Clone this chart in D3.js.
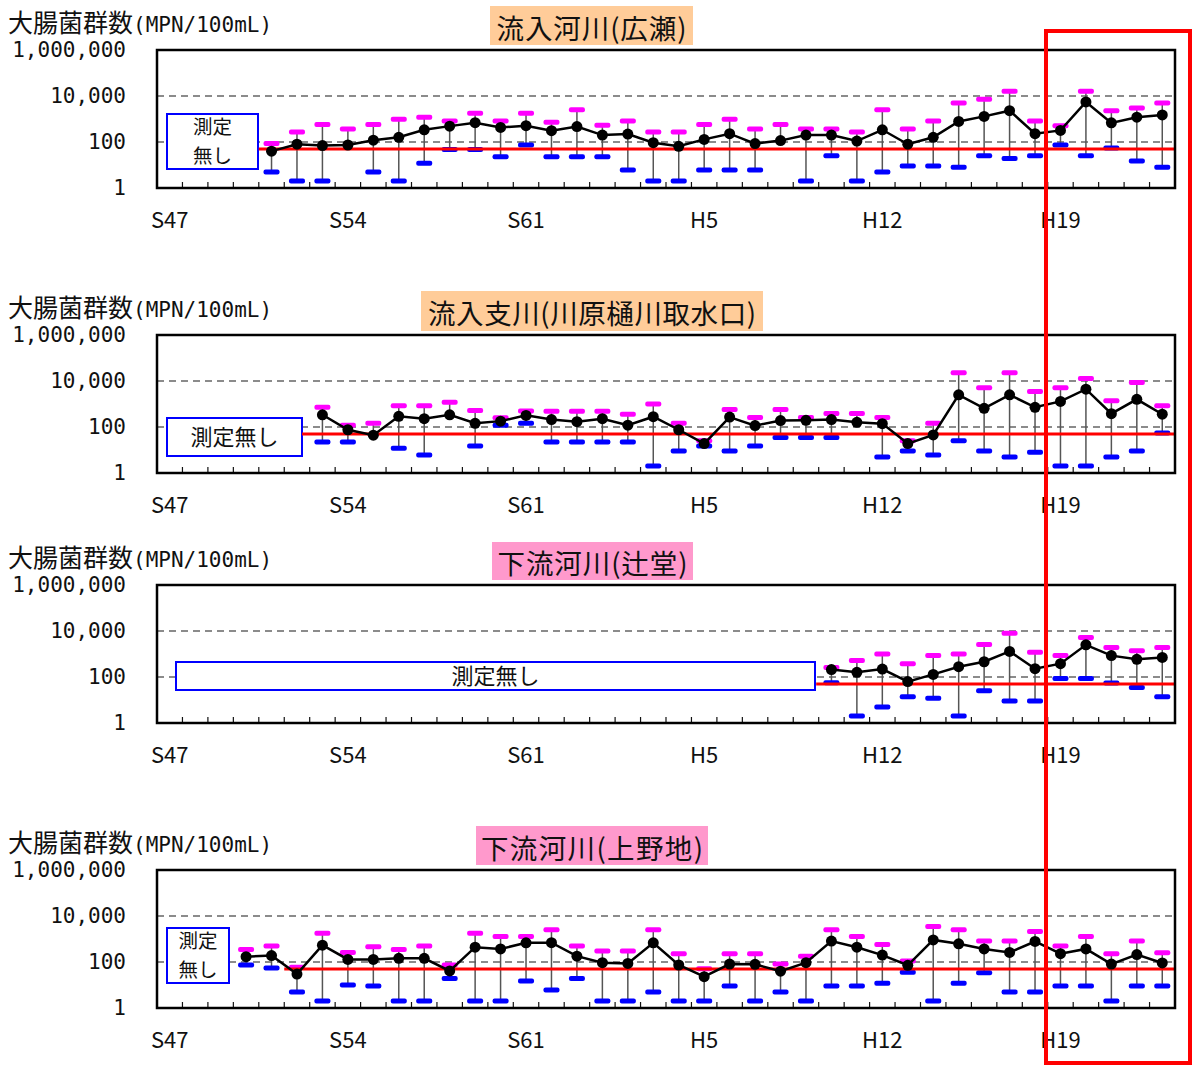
<!DOCTYPE html>
<html><head><meta charset="utf-8">
<script src="https://cdn.jsdelivr.net/npm/d3@7"></script>
<style>body{margin:0;background:#fff}</style>
</head><body>
<svg id="chart" width="1192" height="1066"></svg>
<script>
// ---- Data ----
const years = [];
for (let y = 47; y <= 63; y++) years.push("S" + y);
for (let y = 1; y <= 23; y++) years.push("H" + y);
const tickLabels = ["S47", "S54", "S61", "H5", "H12", "H19"];
const yTickValues = [1, 100, 10000, 1000000];
const yTickLabels = ["1", "100", "10,000", "1,000,000"];
const yAxisTitle = "大腸菌群数";
const yAxisUnit = "(MPN/100mL)";
const standardValue = 50;
const noDataText = "測定無し";

const titles = ["流入河川(広瀬)", "流入支川(川原樋川取水口)", "下流河川(辻堂)", "下流河川(上野地)"];
const startYear = ["S51", "S53", "H10", "S50"];
const stdStartIndex = [4, 5.7, 25.9, 5];

// panel 1: 流入河川(広瀬)
const mean1 = [40,80,70,74,120,160,340,490,690,430,510,310,470,200,220,93,65,130,230,85,115,200,200,110,340,80,160,780,1300,2300,230,320,5500,680,1200,1500];
const max1  = [85,270,580,370,580,980,1200,810,1800,810,1800,720,2500,540,810,270,270,580,980,370,580,370,370,270,2500,370,810,5000,7200,16000,810,510,16000,2300,3000,5000];
const min1  = [5,2,2,null,5,2,12,47,47,23,74,23,23,23,6,2,2,6,6,6,null,2,25,2,5,9,9,8,25,19,25,74,25,55,15,8];
// panel 2: 流入支川(川原樋川取水口)
const mean2 = [340,76,44,290,230,340,145,180,320,210,170,230,120,280,76,19,270,115,190,195,210,160,140,19,45,2500,650,2500,720,1300,4400,380,1600,360];
const max2  = [720,120,145,830,830,1200,520,250,500,490,490,490,360,1000,145,25,580,260,580,260,390,390,260,25,145,23000,5100,23000,3500,5100,13000,1400,8500,830];
const min2  = [22,22,null,12,6,null,15,120,145,22,22,22,22,2,9,15,9,15,35,35,35,null,5,9,6,25,9,5,8,2,2,5,9,55];
// panel 3: 下流河川(辻堂)
const mean3 = [210,160,220,63,130,280,460,1300,230,380,2500,850,590,710];
const max3  = [260,520,1000,380,850,1000,2600,7900,1200,850,5200,1900,1400,1900];
const min3  = [56,2,5,14,12,2,25,9,9,85,85,55,35,14];
// panel 4: 下流河川(上野地)
const mean4 = [170,190,30,540,130,130,145,145,41,440,370,680,690,180,93,87,680,74,23,81,79,40,93,810,440,200,72,910,620,370,260,780,230,370,81,210,91];
const max4  = [350,500,59,1800,260,460,350,500,74,1800,1300,1300,2500,500,300,300,2500,230,51,230,230,81,180,2500,1300,580,110,3500,2500,810,810,2100,500,1300,230,810,250];
const min4  = [74,55,5,2,10,9,2,2,19,2,2,15,6,19,2,2,5,2,2,9,2,5,2,9,9,12,36,2,12,34,5,5,9,9,2,9,9];

const means = [mean1, mean2, mean3, mean4];
const maxs = [max1, max2, max3, max4];
const mins = [min1, min2, min3, min4];

// ---- Layout ----
const svg = d3.select("#chart");
const left = 157, right = 1175, ph = 138;
const tops = [50, 335, 585, 870];
const titleBoxes = [
  {x:490, y:6, w:203, h:39, fill:"#FFCC99", tw:190},
  {x:421, y:291, w:342, h:40, fill:"#FFCC99", tw:328},
  {x:492, y:542, w:201, h:38, fill:"#FF99CC", tw:190},
  {x:476, y:826, w:232, h:39, fill:"#FF99CC", tw:222}
];
const noDataBoxes = [
  {x:167, y:114, w:91, h:55, lines:["測定","無し"]},
  {x:167, y:418, w:135, h:38, lines:[noDataText]},
  {x:176, y:662, w:639, h:28, lines:[noDataText]},
  {x:167, y:928, w:62, h:55, lines:["測定","無し"]}
];

const x = d3.scaleBand().domain(years).range([left, right]).padding(0);
const bw = x.bandwidth();
const FONT_JP = "'Noto Sans CJK JP', 'Noto Sans', sans-serif";
const FONT_MONO = "'DejaVu Sans Mono', monospace";

tops.forEach((top, p) => {
  const bottom = top + ph;
  const y = d3.scaleLog().domain([1, 1e6]).range([bottom, top]);
  const g = svg.append("g");
  const s = years.indexOf(startYear[p]);
  const data = means[p].map((m, i) => ({cat: years[s + i], mean: m, max: maxs[p][i], min: mins[p][i]}));

  // y-axis title
  const t = g.append("text").attr("x", 8).attr("y", top - 18)
    .attr("font-family", FONT_JP).attr("font-size", 25).attr("fill", "#111");
  t.append("tspan").text(yAxisTitle);
  t.append("tspan").attr("font-family", FONT_MONO).attr("font-size", 21).text(yAxisUnit);

  // title
  const tb = titleBoxes[p];
  g.append("rect").attr("x", tb.x).attr("y", tb.y).attr("width", tb.w).attr("height", tb.h).attr("fill", tb.fill);
  g.append("text").attr("x", tb.x + tb.w / 2).attr("y", tb.y + tb.h / 2 + 1)
    .attr("text-anchor", "middle").attr("dominant-baseline", "central")
    .attr("textLength", tb.tw).attr("lengthAdjust", "spacing")
    .attr("font-family", FONT_JP).attr("font-size", 27.5).attr("fill", "#111").text(titles[p]);

  // gridlines
  g.selectAll(".grid").data([100, 10000]).join("line")
    .attr("x1", left).attr("x2", right).attr("y1", d => y(d)).attr("y2", d => y(d))
    .attr("stroke", "#666").attr("stroke-width", 1.3).attr("stroke-dasharray", "7,5");

  // y tick labels
  g.selectAll(".ylab").data(yTickValues).join("text")
    .attr("x", 126).attr("y", d => y(d)).attr("text-anchor", "end").attr("dominant-baseline", "central")
    .attr("font-family", FONT_MONO).attr("font-size", 21).attr("fill", "#111")
    .text((d, i) => yTickLabels[i]);

  // x ticks (category boundaries)
  g.selectAll(".xt").data(years.slice(1)).join("line")
    .attr("x1", d => x(d)).attr("x2", d => x(d)).attr("y1", bottom).attr("y2", bottom - 6)
    .attr("stroke", "#111").attr("stroke-width", 1.2);

  // x labels
  g.selectAll(".xl").data(tickLabels).join("text")
    .attr("x", d => x(d) + bw / 2).attr("y", bottom + 40).attr("text-anchor", "middle")
    .attr("font-family", FONT_JP).attr("font-size", 22).attr("fill", "#111").text(d => d);

  // no-data box
  const nb = noDataBoxes[p];
  g.append("rect").attr("x", nb.x).attr("y", nb.y).attr("width", nb.w).attr("height", nb.h)
    .attr("fill", "#fff").attr("stroke", "#0000FF").attr("stroke-width", 2);
  const n = nb.lines.length;
  const fs = n > 1 ? 19.5 : 22;
  const lh = 28.5;
  const nt = g.append("text").attr("text-anchor", "middle")
    .attr("font-family", FONT_JP).attr("font-size", fs).attr("fill", "#111");
  nb.lines.forEach((ln, k) => {
    nt.append("tspan").attr("x", nb.x + nb.w / 2)
      .attr("y", nb.y + nb.h / 2 + (k - (n - 1) / 2) * lh + fs * 0.36).text(ln);
  });

  // error bars
  const cx = d => x(d.cat) + bw / 2;
  g.selectAll(".eb").data(data).join("line")
    .attr("x1", cx).attr("x2", cx)
    .attr("y1", d => y(d.max)).attr("y2", d => y(d.min == null ? d.mean : d.min))
    .attr("stroke", "#555").attr("stroke-width", 1.5);
  g.selectAll(".capU").data(data).join("rect")
    .attr("x", d => cx(d) - 8).attr("y", d => y(d.max) - 2.5).attr("width", 16).attr("height", 5)
    .attr("rx", 2).attr("fill", "#FF00FF");
  g.selectAll(".capL").data(data.filter(d => d.min != null)).join("rect")
    .attr("x", d => cx(d) - 8).attr("y", d => y(d.min) - 2.5).attr("width", 16).attr("height", 5)
    .attr("rx", 2).attr("fill", "#0000FF");

  // standard line
  g.append("line").attr("x1", left + stdStartIndex[p] * bw).attr("x2", right)
    .attr("y1", y(standardValue)).attr("y2", y(standardValue))
    .attr("stroke", "#FF0000").attr("stroke-width", 3);

  // mean line + dots
  g.append("path").datum(data)
    .attr("d", d3.line().x(cx).y(d => y(d.mean)))
    .attr("fill", "none").attr("stroke", "#000").attr("stroke-width", 2.5);
  g.selectAll(".dot").data(data).join("circle")
    .attr("cx", cx).attr("cy", d => y(d.mean)).attr("r", 5.5).attr("fill", "#000");

  // plot frame
  g.append("rect").attr("x", left).attr("y", top).attr("width", right - left).attr("height", ph)
    .attr("fill", "none").attr("stroke", "#000").attr("stroke-width", 2.5);
});

// highlight rectangle
svg.append("rect").attr("x", 1046).attr("y", 31).attr("width", 144).attr("height", 1032)
  .attr("fill", "none").attr("stroke", "#FF0000").attr("stroke-width", 4);
</script>
</body></html>
